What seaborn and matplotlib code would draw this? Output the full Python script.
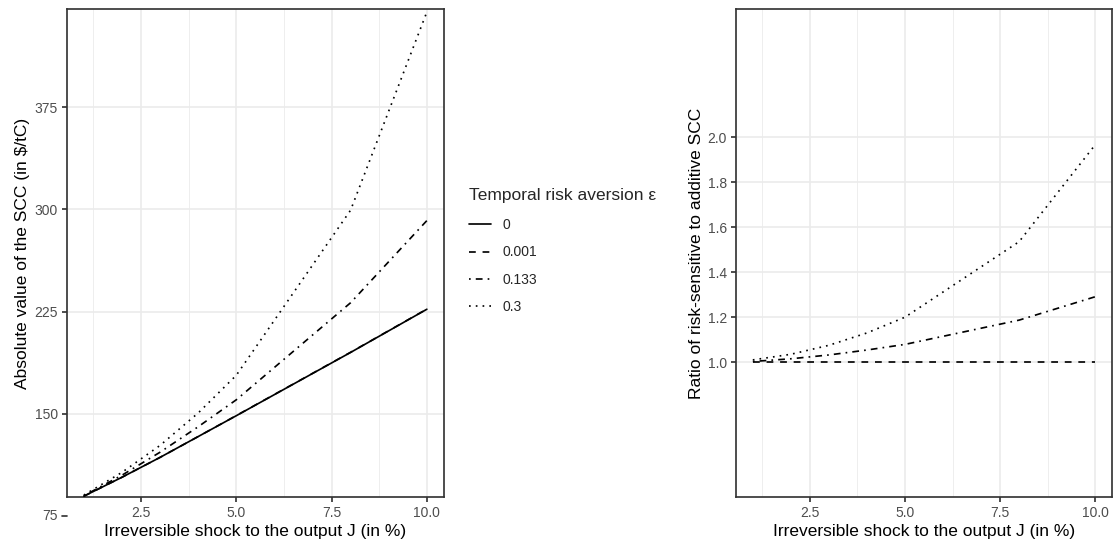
import matplotlib
matplotlib.use("Agg")
import matplotlib.pyplot as plt
import matplotlib.transforms as mtransforms
from matplotlib.lines import Line2D
import pandas as pd
import seaborn as sns

# Irreversible shock J (in %) at which the SCC was evaluated
shock = [1, 2, 3, 4, 5, 8, 10]

# Temporal risk aversion levels
eps_levels = ["0", "0.001", "0.133", "0.3"]

# Absolute SCC (in $/tC) for each risk-aversion level
scc_eps_0 = [89.4, 103.3, 117.9, 133.2, 148.5, 195.0, 226.7]
scc_eps_0001 = [89.4, 103.3, 117.9, 133.2, 148.6, 195.1, 226.8]
scc_eps_0133 = [89.7, 104.8, 121.7, 140.4, 160.2, 231.5, 291.8]
scc_eps_03 = [90.2, 106.9, 126.7, 150.5, 178.2, 299.5, 445.0]

# Ratio of risk-sensitive to additive SCC
ratio_eps_0001 = [1.000, 1.000, 1.000, 1.000, 1.000, 1.000, 1.000]
ratio_eps_0133 = [1.003, 1.015, 1.032, 1.054, 1.079, 1.187, 1.291]
ratio_eps_03 = [1.010, 1.035, 1.075, 1.130, 1.200, 1.536, 1.967]

# Axis ticks
scc_ticks = [150, 225, 300, 375]
scc_tick_below = 75
ratio_ticks = [1.0, 1.2, 1.4, 1.6, 1.8, 2.0]
shock_ticks = [2.5, 5.0, 7.5, 10.0]
shock_minor = [1.25, 3.75, 6.25, 8.75]

LW = 1.22
TITLE_FS = 12.5
TICK_FS = 10
dash_map = {"0": "", "0.001": (4, 4), "0.133": (1, 3, 4, 3), "0.3": (1, 3)}

scc_df = pd.DataFrame({
    "shock": shock * 4,
    "scc": scc_eps_0 + scc_eps_0001 + scc_eps_0133 + scc_eps_03,
    "eps": sum([[e] * len(shock) for e in eps_levels], []),
})
ratio_df = pd.DataFrame({
    "shock": shock * 3,
    "ratio": ratio_eps_0001 + ratio_eps_0133 + ratio_eps_03,
    "eps": sum([[e] * len(shock) for e in eps_levels[1:]], []),
})

sns.set_style("white")
plt.rcParams["font.family"] = ["Liberation Sans", "DejaVu Sans"]

GRID = "#EBEBEB"
DARK = "#333333"
TICKC = "#4D4D4D"

fig = plt.figure(figsize=(11.14, 5.45), dpi=100)
ax1 = fig.add_axes([66.7 / 1114, 1 - 497 / 545, (444 - 66.7) / 1114, (497 - 9.3) / 545])
ax2 = fig.add_axes([735.7 / 1114, 1 - 497 / 545, (1112.3 - 735.7) / 1114, (497 - 9.3) / 545])

sns.lineplot(data=scc_df, x="shock", y="scc", style="eps", style_order=eps_levels,
             dashes=dash_map, color="black", linewidth=LW, legend=False, ax=ax1,
             zorder=3)
sns.lineplot(data=ratio_df, x="shock", y="ratio", style="eps", style_order=eps_levels[1:],
             dashes={k: dash_map[k] for k in eps_levels[1:]}, color="black",
             linewidth=LW, legend=False, ax=ax2, zorder=3)

def style_axes(ax, yticks, ylim):
    ax.set_xlim(0.55, 10.45)
    ax.set_ylim(*ylim)
    ax.set_xticks(shock_ticks)
    ax.set_xticklabels([f"{t:.1f}" for t in shock_ticks])
    ax.set_xticks(shock_minor, minor=True)
    ax.set_yticks(yticks)
    ax.grid(True, which="major", color=GRID, linewidth=LW, zorder=0)
    ax.grid(True, which="minor", axis="x", color=GRID, linewidth=LW * 0.5, zorder=0)
    ax.set_axisbelow(True)
    for s in ax.spines.values():
        s.set_color(DARK)
        s.set_linewidth(LW)
        s.set_visible(True)
    ax.tick_params(axis="both", which="major", direction="out", length=3.4,
                   width=LW, color=DARK, labelcolor=TICKC, labelsize=TICK_FS, pad=3,
                   left=True, bottom=True)
    ax.tick_params(axis="both", which="minor", length=0)
    ax.set_xlabel("Irreversible shock to the output J (in %)", fontsize=TITLE_FS, color="black")
    ax.xaxis.set_label_coords(0.5, -0.056)
    ax.xaxis.label.set_va("top")

style_axes(ax1, scc_ticks, (88.8, 447.0))
style_axes(ax2, ratio_ticks, (0.4, 2.57))
ax1.set_yticklabels([str(t) for t in scc_ticks])
ax2.set_yticklabels([f"{t:.1f}" for t in ratio_ticks])

ax1.set_ylabel("Absolute value of the SCC (in $/tC)", fontsize=TITLE_FS, color="black")
ax1.yaxis.set_label_coords(-0.097, 0.5)
ax2.set_ylabel("Ratio of risk-sensitive to additive SCC", fontsize=TITLE_FS, color="black")
ax2.yaxis.set_label_coords(-0.085, 0.5)

# The 75 break sits just below the plotting region of the left panel
blend = mtransforms.blended_transform_factory(ax1.transAxes, ax1.transData)
tick_len = 4.7 / ((444 - 66.7))
ax1.add_line(Line2D([-tick_len, 0], [scc_tick_below, scc_tick_below], transform=blend,
                    color=DARK, linewidth=LW, clip_on=False))
ax1.text(-tick_len - 4.2 / (444 - 66.7), scc_tick_below, str(scc_tick_below), transform=blend,
         ha="right", va="center", fontsize=TICK_FS, color=TICKC, clip_on=False)

handles = [Line2D([], [], color="black", linewidth=LW,
                  linestyle="-" if dash_map[e] == "" else (0, dash_map[e]))
           for e in eps_levels]
leg = fig.legend(handles, eps_levels, title="Temporal risk aversion \u03b5",
                 loc="upper left", bbox_to_anchor=(469 / 1114, 1 - 188 / 545),
                 frameon=False, fontsize=TICK_FS, title_fontsize=TITLE_FS, handlelength=1.6,
                 handletextpad=0.8, labelspacing=0.95, borderpad=0, borderaxespad=0,
                 alignment="left")
leg._legend_box.sep = 11

fig.savefig("out.png", dpi=100, facecolor="white")
